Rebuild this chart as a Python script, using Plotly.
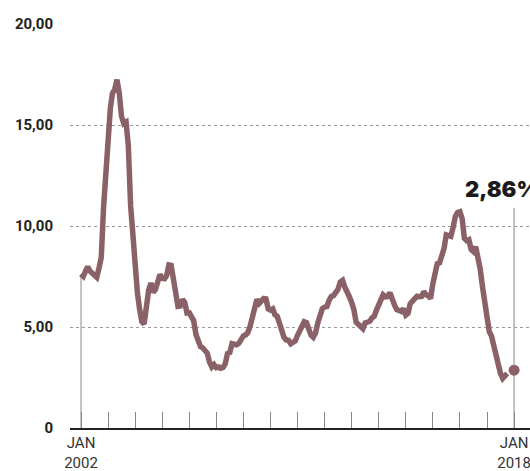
import pandas as pd
import plotly.graph_objects as go

# Monthly 12-month rate (%), Jan 2002 - Oct 2017
values = [
    7.62, 7.51, 7.75, 7.98, 7.77, 7.66, 7.51, 7.46, 7.93, 8.45, 10.93, 12.53,
    14.47, 15.85, 16.57, 16.77, 17.24, 16.57, 15.43, 15.07, 15.14, 13.98, 11.02, 9.30,
    7.71, 6.69, 5.89, 5.26, 5.15, 6.06, 6.81, 7.18, 6.71, 6.86, 7.24, 7.60,
    7.41, 7.39, 7.54, 8.07, 8.05, 7.27, 6.57, 6.02, 6.04, 6.36, 6.22, 5.69,
    5.70, 5.51, 5.32, 4.63, 4.23, 4.03, 3.97, 3.84, 3.70, 3.26, 3.02, 3.14,
    2.99, 3.02, 2.96, 3.00, 3.18, 3.69, 3.74, 4.18, 4.15, 4.12, 4.19, 4.46,
    4.56, 4.61, 4.73, 5.04, 5.58, 6.06, 6.37, 6.17, 6.25, 6.41, 6.39, 5.90,
    5.84, 5.90, 5.61, 5.53, 5.20, 4.80, 4.50, 4.36, 4.34, 4.17, 4.22, 4.31,
    4.59, 4.83, 5.17, 5.26, 5.22, 4.84, 4.60, 4.49, 4.70, 5.20, 5.63, 5.91,
    5.99, 6.01, 6.30, 6.51, 6.55, 6.71, 6.87, 7.23, 7.31, 6.97, 6.64, 6.50,
    6.22, 5.85, 5.24, 5.10, 4.99, 4.92, 5.20, 5.24, 5.28, 5.45, 5.53, 5.84,
    6.15, 6.31, 6.59, 6.49, 6.50, 6.70, 6.27, 6.09, 5.86, 5.84, 5.77, 5.91,
    5.59, 5.68, 6.15, 6.28, 6.37, 6.52, 6.50, 6.51, 6.75, 6.59, 6.56, 6.41,
    7.14, 7.70, 8.13, 8.17, 8.47, 8.89, 9.56, 9.53, 9.49, 9.93, 10.48, 10.67,
    10.71, 10.36, 9.39, 9.28, 9.32, 8.84, 8.74, 8.97, 8.48, 7.87, 6.99, 6.29,
    5.35, 4.76, 4.57, 4.08, 3.60, 3.00, 2.71, 2.46, 2.54, 2.70,
]
dates = pd.date_range("2002-01-01", periods=len(values), freq="MS")

last_date = "2018-01-01"
last_value = 2.86
last_label = "2,86%"
label_level = 10.9

year_ticks = [f"{y}-01-01" for y in range(2002, 2019)]
year_text = ["JAN<br>2002"] + [""] * 15 + ["JAN<br>2018"]
y_ticks = [0, 5, 10, 15, 20]
y_text = ["0", "5,00", "10,00", "15,00", "20,00"]

line_color = "#8a6167"

fig = go.Figure()
fig.add_trace(go.Scatter(x=dates, y=values, mode="lines",
                         line=dict(color=line_color, width=5.5),
                         hoverinfo="skip", cliponaxis=False))
fig.add_trace(go.Scatter(x=[last_date], y=[last_value], mode="markers",
                         marker=dict(color=line_color, size=11),
                         hoverinfo="skip", cliponaxis=False))

# vertical guide lines at first and last ticks
fig.add_shape(type="line", xref="x", yref="y", x0=dates[0], x1=dates[0],
              y0=0, y1=values[0], line=dict(color="#888", width=1), layer="below")
fig.add_shape(type="line", xref="x", yref="y", x0=last_date, x1=last_date,
              y0=0, y1=label_level, line=dict(color="#888", width=1), layer="below")

fig.add_annotation(x=0.855, xref="paper", xanchor="left",
                   y=11.85, yref="y", yanchor="middle",
                   text=last_label, showarrow=False,
                   font=dict(family="Inter", size=22, color="#1a1a1a", weight=900))

fig.update_layout(
    width=530, height=471,
    margin=dict(l=70, r=0, t=24, b=43, autoexpand=False),
    paper_bgcolor="white", plot_bgcolor="white",
    showlegend=False,
    xaxis=dict(
        type="date",
        range=["2001-08-05", "2018-08-04"],
        tickvals=year_ticks, ticktext=year_text,
        ticks="inside", ticklen=16, tickcolor="#888", tickwidth=1,
        showgrid=False, zeroline=False,
        showline=True, linecolor="#222", linewidth=2,
        tickfont=dict(family="Roboto", size=15, color="#333"),
        ticklabeloverflow="allow",
        automargin=False,
    ),
    yaxis=dict(
        range=[0, 20],
        tickvals=y_ticks, ticktext=y_text,
        showgrid=True, gridcolor="#999", griddash="dot", gridwidth=1,
        zeroline=False, showline=False, ticks="",
        ticklabelstandoff=16,
        tickfont=dict(family="Roboto", size=15, color="#222", weight="bold"),
        automargin=False,
    ),
)

fig.write_html(
    "out.html",
    config={"displayModeBar": False, "staticPlot": True},
    post_script="document.body.style.margin='0';document.body.style.overflow='hidden';",
)
